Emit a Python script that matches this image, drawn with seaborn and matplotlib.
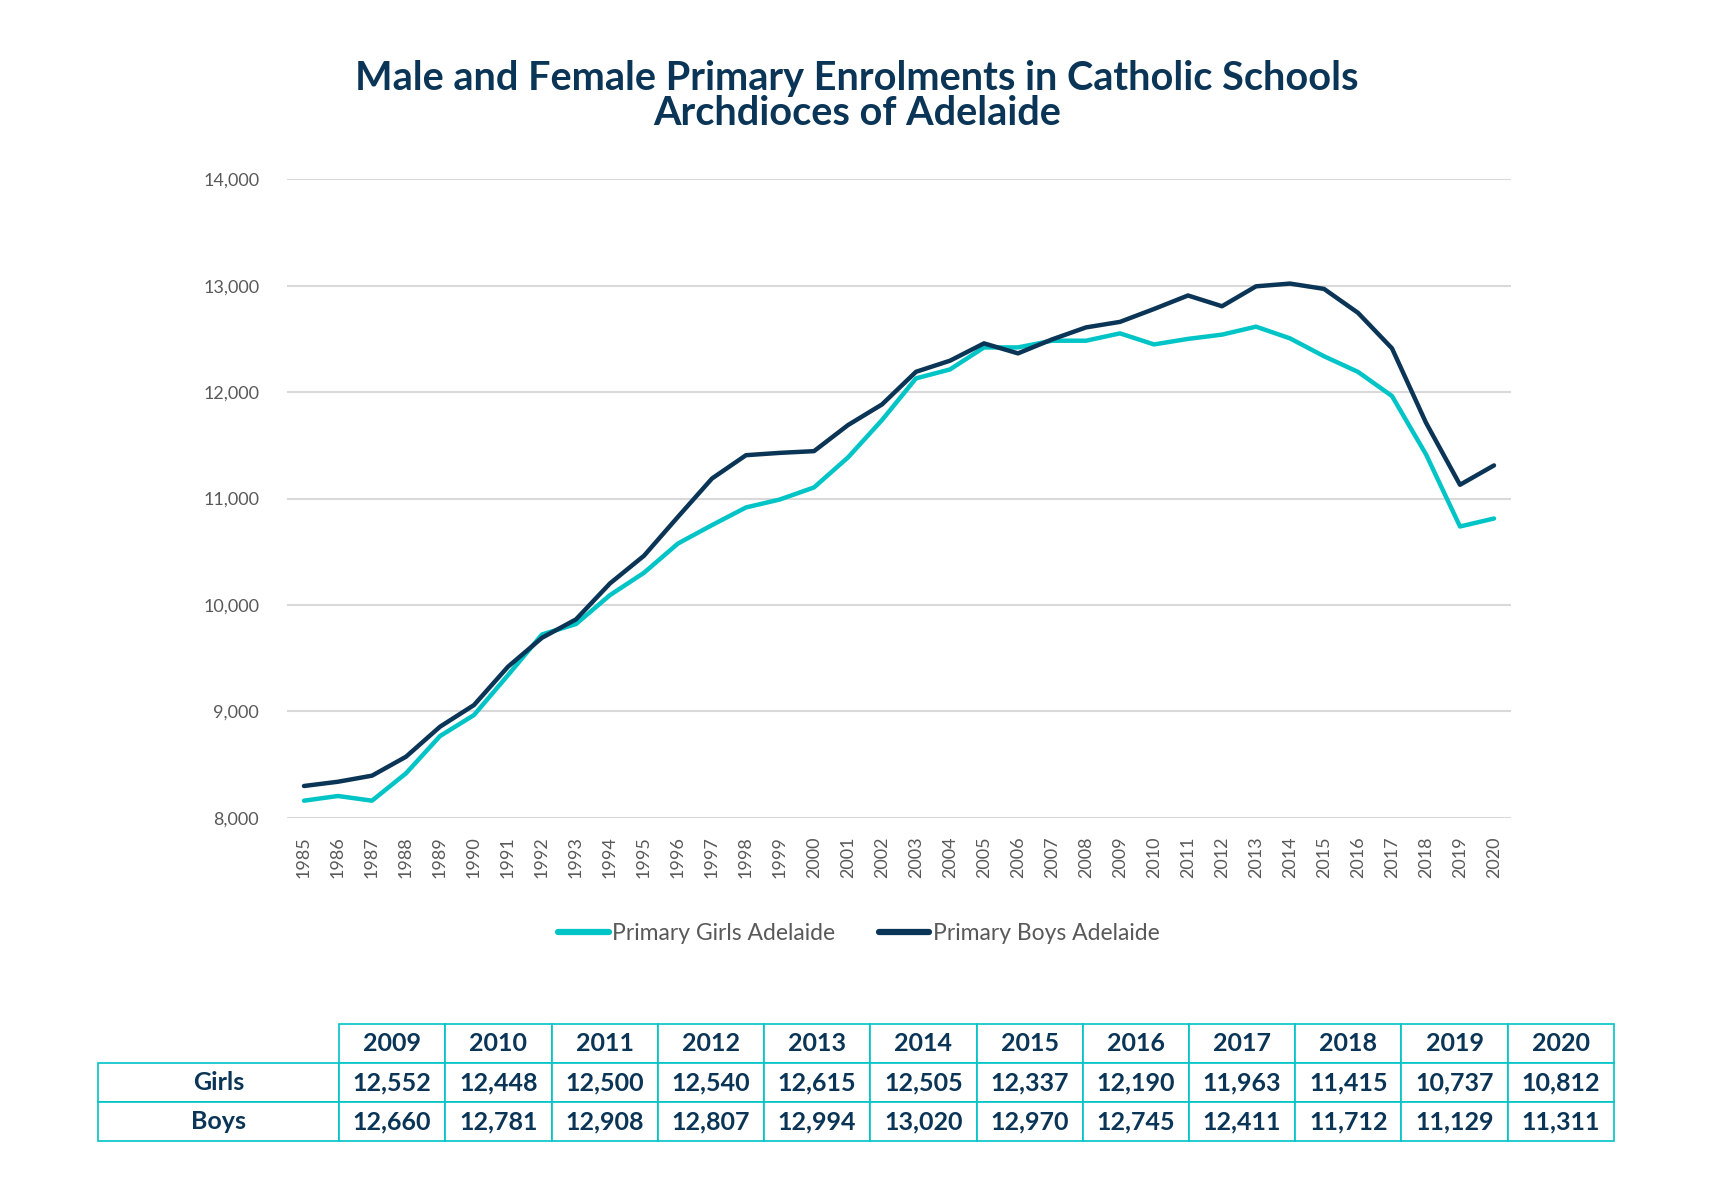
import numpy as np
import pandas as pd
import matplotlib.pyplot as plt
import seaborn as sns
from matplotlib.ticker import FuncFormatter

# enrolment series (2009-2020 from the table)
years = list(range(1985, 2021))
girls = [8160, 8204, 8160, 8417, 8767, 8965, 9340, 9722, 9820, 10092,
         10302, 10577, 10750, 10916, 10991, 11104, 11386, 11737, 12129, 12213,
         12420, 12420, 12483, 12483, 12552, 12448, 12500, 12540, 12615, 12505,
         12337, 12190, 11963, 11415, 10737, 10812]
boys = [8298, 8338, 8395, 8573, 8855, 9059, 9419, 9691, 9864, 10202,
        10462, 10828, 11188, 11407, 11429, 11445, 11690, 11884, 12191, 12295,
        12458, 12364, 12495, 12608, 12660, 12781, 12908, 12807, 12994, 13020,
        12970, 12745, 12411, 11712, 11129, 11311]
series_names = ["Primary Girls Adelaide", "Primary Boys Adelaide"]
row_labels = ["Girls", "Boys"]

TURQ = "#00C4C6"
NAVY = "#0B3556"
GREY = "#595959"

df = pd.DataFrame({
    "Year": years * 2,
    "Enrolments": girls + boys,
    "Series": [series_names[0]] * len(years) + [series_names[1]] * len(years),
})

sns.set_theme(style="white")
plt.rcParams['font.family'] = ['Lato', 'DejaVu Sans']

fig = plt.figure(figsize=(17.14, 12), dpi=100)
ax = fig.add_axes([287 / 1714, 1 - 817.7 / 1200, 1224 / 1714, 638.4 / 1200])

sns.lineplot(data=df, x="Year", y="Enrolments", hue="Series",
             palette=[TURQ, NAVY], linewidth=3.2, ax=ax)

ax.set_xlim(1984.5, 2020.5)
ax.set_ylim(8000, 14000)
ax.set_xticks(years)
ax.set_xticklabels([str(y) for y in years], rotation=90)
ax.set_yticks(range(8000, 14001, 1000))
ax.yaxis.set_major_formatter(FuncFormatter(lambda v, p: f"{v:,.0f}"))
ax.grid(axis='y', color='#D9D9D9', linewidth=1.5)
ax.set_axisbelow(True)
for s in ax.spines.values():
    s.set_visible(False)
ax.tick_params(axis='both', length=0, colors=GREY)
ax.tick_params(axis='y', pad=20, labelsize=13)
ax.tick_params(axis='x', pad=13.5, labelsize=13)
ax.set_xlabel("")
ax.set_ylabel("")

leg = ax.legend(loc='center', bbox_to_anchor=(859 / 1714, 1 - 934 / 1200),
                bbox_transform=fig.transFigure, ncol=2, frameon=False,
                handlelength=2.2, handletextpad=0.15, columnspacing=1.9, fontsize=16.5)
for t in leg.get_texts():
    t.set_color(GREY)
for h in leg.get_lines():
    h.set_linewidth(4.5)

fig.text(0.5, 1 - 96 / 1200,
         "Male and Female Primary Enrolments in Catholic Schools\nArchdioces of Adelaide",
         ha='center', va='center', fontsize=28.5, fontweight='bold', color=NAVY, linespacing=0.95)

# table of the last 12 years
tax = fig.add_axes([98 / 1714, 1 - 1141 / 1200, 1516 / 1714, 117 / 1200])
tax.axis('off')
t_years = years[-12:]
cell_text = [[row_labels[0]] + [f"{v:,}" for v in girls[-12:]],
             [row_labels[1]] + [f"{v:,}" for v in boys[-12:]]]
col_labels = [""] + [str(y) for y in t_years]
widths = np.array([241] + [106.25] * 12)
tbl = tax.table(cellText=cell_text, colLabels=col_labels, colWidths=list(widths / widths.sum()),
                cellLoc='center', bbox=[0, 0, 1, 1])
tbl.auto_set_font_size(False)
tbl.set_fontsize(18)
for (r, c), cell in tbl.get_celld().items():
    cell.set_edgecolor(TURQ)
    cell.set_linewidth(1.2)
    cell.get_text().set_color(NAVY)
    cell.get_text().set_fontweight('bold')
tbl[0, 0].visible_edges = 'open'

fig.savefig("out.png", dpi=100)
